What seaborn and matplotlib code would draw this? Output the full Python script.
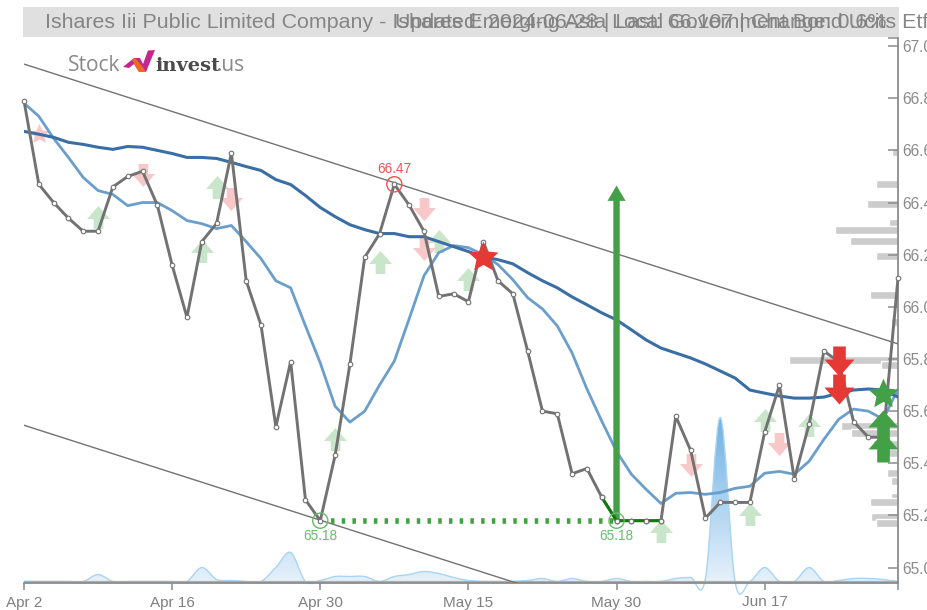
# Stock chart recreation: close, moving averages, signals, volume and profile
import numpy as np
import seaborn as sns
import matplotlib.pyplot as plt
from matplotlib.path import Path
from matplotlib.patches import PathPatch, Rectangle, Polygon
from matplotlib.lines import Line2D
from matplotlib.colors import LinearSegmentedColormap

title_main = "Ishares Iii Public Limited Company - Ishares Emerging Asia Local Government Bond Ucits Etf"
title_update = "Updated: 2024-06-28 | Last: 66.107 | Change: 0.6%"

days = list(range(60))
x_ticks = [0, 10, 20, 30, 40, 50]
x_labels = ["Apr 2", "Apr 16", "Apr 30", "May 15", "May 30", "Jun 17"]
y_ticks = [65.0, 65.2, 65.4, 65.6, 65.8, 66.0, 66.2, 66.4, 66.6, 66.8, 67.0]

close = [66.79, 66.47, 66.40, 66.34, 66.29, 66.29, 66.46, 66.50, 66.52, 66.39,
         66.16, 65.96, 66.25, 66.32, 66.59, 66.10, 65.93, 65.54, 65.79, 65.26,
         65.18, 65.43, 65.78, 66.19, 66.28, 66.47, 66.39, 66.29, 66.04, 66.05,
         66.02, 66.25, 66.10, 66.05, 65.83, 65.60, 65.59, 65.36, 65.38, 65.27,
         65.18, 65.18, 65.18, 65.18, 65.58, 65.45, 65.19, 65.25, 65.25, 65.25,
         65.52, 65.70, 65.34, 65.55, 65.83, 65.79, 65.56, 65.50, 65.50, 66.11]

sma_long = [66.673, 66.662, 66.650, 66.631, 66.623, 66.612, 66.604, 66.615, 66.612, 66.600,
            66.588, 66.573, 66.573, 66.569, 66.554, 66.538, 66.523, 66.488, 66.469, 66.427,
            66.381, 66.346, 66.315, 66.296, 66.281, 66.281, 66.269, 66.269, 66.250, 66.231,
            66.212, 66.192, 66.181, 66.165, 66.131, 66.100, 66.073, 66.038, 66.008, 65.977,
            65.950, 65.912, 65.873, 65.842, 65.823, 65.804, 65.781, 65.754, 65.727, 65.681,
            65.669, 65.658, 65.650, 65.650, 65.654, 65.669, 65.681, 65.685, 65.681, 65.654]

sma_short = [66.781, 66.731, 66.646, 66.573, 66.496, 66.446, 66.431, 66.388, 66.400, 66.400,
             66.369, 66.331, 66.319, 66.300, 66.312, 66.250, 66.185, 66.100, 66.073, 65.927,
             65.785, 65.619, 65.558, 65.600, 65.700, 65.792, 65.954, 66.119, 66.208, 66.235,
             66.227, 66.200, 66.162, 66.104, 66.035, 65.992, 65.927, 65.823, 65.685, 65.562,
             65.446, 65.358, 65.300, 65.246, 65.285, 65.288, 65.281, 65.288, 65.304, 65.312,
             65.362, 65.369, 65.358, 65.408, 65.492, 65.569, 65.608, 65.600, 65.569, 65.685]

volume = [0, 0, 0, 0, 0, 7, 0, 0, 0, 0,
          0, 0, 14, 2, 1, 0, 0, 14, 29, 0,
          1, 5, 5, 5, 0, 5, 7, 10, 8, 4,
          1, 0, 0, 0, 1, 3, 0, 3, 0, 0,
          3, 0, 0, 0, 3, 4, 3, 164, 0, 0,
          14, 0, 0, 14, 0, 1, 3, 3, 2, 0]

profile_price = [66.793, 66.594, 66.471, 66.394, 66.321, 66.294, 66.252, 66.195, 66.046, 65.942,
                 65.796, 65.778, 65.543, 65.516, 65.474, 65.440, 65.363, 65.332, 65.271, 65.252,
                 65.194, 65.171]
profile_volume = [2, 6, 22, 31, 9, 63, 48, 22, 28, 7,
                  109, 17, 57, 47, 25, 20, 11, 7, 7, 28,
                  27, 22]

# signals (day, price)
weak_buy_x = [5, 13, 12, 24, 28, 30, 21, 43, 49, 50, 53]
weak_buy_y = [66.346, 66.458, 66.215, 66.173, 66.254, 66.108, 65.492, 65.142, 65.204, 65.565, 65.546]
weak_sell_x = [8, 14, 27, 27, 45, 51]
weak_sell_y = [66.504, 66.415, 66.377, 66.223, 65.392, 65.473]
sell_x = [55, 55]
sell_y = [65.792, 65.685]
buy_x = [58, 58]
buy_y = [65.546, 65.462]

low_day_a, low_day_b, low_price = 20, 40, 65.18
high_day, high_price = 25, 66.47
target_price = 66.465

upper_trend = [66.931, 65.858]
lower_trend = [65.546, 64.472]

GREY = "#727272"
AXIS = "#8c8c8c"
GREEN = "#43a047"
RED = "#e53935"

sns.set_style("ticks")
plt.rcParams["font.family"] = ["Liberation Sans", "DejaVu Sans"]

W, H = 928, 610


def px(x, y):
    return x / W, 1 - y / H


fig = plt.figure(figsize=(W / 100, H / 100), dpi=100)
pos = [24 / W, 1 - 583 / H, 874 / W, 545 / H]

# title band
fig.patches.append(Rectangle(px(23, 37), 876 / W, 30 / H, transform=fig.transFigure,
                             facecolor="#e0e0e0", edgecolor="none", zorder=0))
fig.text(*px(45, 22), title_main, fontsize=15.4, color="#808080", va="center", ha="left", alpha=0.95)
fig.text(*px(395, 22), title_update, fontsize=15.4, color="#808080", va="center", ha="left", alpha=0.95)

# volume profile, anchored on the right
ax_prof = fig.add_axes(pos, zorder=1)
ax_prof.barh(profile_price, profile_volume, height=0.03, color="#cccccc")
ax_prof.set_xlim(874, 0)
ax_prof.set_ylim(64.941, 67.031)
ax_prof.axis("off")

# volume area, spline through the daily values
ax_vol = fig.add_axes(pos, zorder=2)
ax_vol.axis("off")
verts = [(days[0], volume[0])]
codes = [Path.MOVETO]
for i in range(len(days) - 1):
    prev_v = volume[max(i - 1, 0)]
    next_v = volume[min(i + 2, len(days) - 1)]
    verts += [(days[i] + 1 / 3, volume[i] + (volume[i + 1] - prev_v) / 6),
              (days[i + 1] - 1 / 3, volume[i + 1] - (next_v - volume[i]) / 6),
              (days[i + 1], volume[i + 1])]
    codes += [Path.CURVE4] * 3
verts.append((days[0], volume[0]))
codes.append(Path.LINETO)
area = PathPatch(Path(verts, codes), facecolor="none", edgecolor="#a9d4f2", lw=1.0, clip_on=False, zorder=3)
ax_vol.add_patch(area)
cmap = LinearSegmentedColormap.from_list("vol", ["#6fb1e4", "#f0f7fd"])
grad = ax_vol.imshow(np.linspace(0, 1, 128).reshape(-1, 1), extent=(0, 59, -15, max(volume)),
                     origin="upper", aspect="auto", cmap=cmap, zorder=2)
grad.set_clip_path(area)
grad.set_clip_on(True)
ax_vol.set_xlim(0, 59)
ax_vol.set_ylim(-1.5, 543.5)

# main price axes
ax = fig.add_axes(pos, zorder=3)
ax.patch.set_visible(False)

up = Path([(-.42, -1), (.42, -1), (.42, -.13), (1, -.13), (0, 1), (-1, -.13), (-.42, -.13), (-.42, -1)],
          closed=True)
down = Path([(x, -y) for x, y in up.vertices], closed=True)
# fat five point star, fatter than the stock '*' marker
star_ang = np.pi / 2 + np.arange(11) * np.pi / 5
star_rad = np.where(np.arange(11) % 2 == 0, 1.0, 0.47)
star = Path(np.column_stack([star_rad * np.cos(star_ang), star_rad * np.sin(star_ang)]), closed=True)

sns.scatterplot(x=weak_buy_x, y=weak_buy_y, marker=up, s=275, color="#c9e6ca", linewidth=0, ax=ax, zorder=2)
sns.scatterplot(x=weak_sell_x, y=weak_sell_y, marker=down, s=275, color="#f8c8c8", linewidth=0, ax=ax, zorder=2)
sns.scatterplot(x=[1], y=[66.662], marker=star, s=230, color="#f8c8c8", linewidth=0, ax=ax, zorder=2)

# trend channel
sns.lineplot(x=[days[0], days[-1]], y=upper_trend, color=GREY, lw=1.0, ax=ax, zorder=3)
sns.lineplot(x=[days[0], days[-1]], y=lower_trend, color=GREY, lw=1.0, ax=ax, zorder=3)

sns.lineplot(x=days, y=sma_short, color="#6b9fcb", lw=2.0, ax=ax, zorder=4)
sns.lineplot(x=days, y=sma_long, color="#3a6ea5", lw=2.2, ax=ax, zorder=4)

ax.annotate("", xy=(low_day_b, target_price), xytext=(low_day_b, low_price),
            arrowprops=dict(width=4.6, headwidth=13, headlength=11, shrink=0, color=GREEN, lw=0), zorder=5)
ax.add_line(Line2D([low_day_a + 0.7, low_day_b], [low_price, low_price], color="#3da33d", lw=4.0,
                   ls=(0, (0.63, 1.3)), zorder=5))

sns.lineplot(x=days, y=close, color=GREY, lw=2.1, marker="o", markersize=3.3, markerfacecolor="white",
             markeredgecolor=GREY, markeredgewidth=0.8, ax=ax, zorder=6, clip_on=False)
sns.lineplot(x=days[39:44], y=close[39:44], color="#0b7d0b", lw=2.1, ax=ax, zorder=6)
sns.scatterplot(x=days[39:44], y=close[39:44], color="white", edgecolor=GREY, s=11, linewidth=0.8, ax=ax, zorder=6)

# high / low markers
sns.scatterplot(x=[high_day], y=[high_price], s=120, facecolor="none", edgecolor="#ef5350", linewidth=1.0,
                ax=ax, zorder=7)
sns.scatterplot(x=[low_day_a, low_day_b], y=[low_price, low_price], s=120, facecolor="none", edgecolor="#66bb6a",
                linewidth=1.0, ax=ax, zorder=7)
ax.annotate(f"{high_price}", (high_day, high_price), xytext=(0, 6), textcoords="offset points", ha="center",
            va="bottom", fontsize=9.8, color="#ef5350", zorder=7)
for d in [low_day_a, low_day_b]:
    ax.annotate(f"{low_price}", (d, low_price), xytext=(0, -6), textcoords="offset points", ha="center",
                va="top", fontsize=9.8, color="#66bb6a", zorder=7)

# strong signals
sns.scatterplot(x=sell_x, y=sell_y, marker=down, s=467, color=RED, linewidth=0, ax=ax, zorder=8)
sns.scatterplot(x=buy_x, y=buy_y, marker=up, s=467, color=GREEN, linewidth=0, ax=ax, zorder=8)
sns.scatterplot(x=[31], y=[66.192], marker=star, s=516, color=RED, linewidth=0, ax=ax, zorder=8)
sns.scatterplot(x=[58], y=[65.665], marker=star, s=516, color=GREEN, linewidth=0, ax=ax, zorder=8)

ax.set_xlim(0, 59)
ax.set_ylim(64.941, 67.031)
ax.set_xlabel("")
ax.set_ylabel("")
ax.set_xticks(x_ticks, x_labels)
ax.set_xticks([59], minor=True)
ax.set_yticks(y_ticks, [f"{v:.1f}" for v in y_ticks])
ax.set_yticks([67.031], minor=True)
ax.yaxis.tick_right()
ax.tick_params(axis="y", which="both", direction="in", length=7, width=1.1, color=AXIS,
               labelcolor="#8a8a8a", labelsize=11.2, pad=3)
ax.tick_params(axis="x", which="both", direction="out", length=5, width=1.1, color=AXIS,
               labelcolor="#808080", labelsize=11, pad=4)
for side in ["top", "left"]:
    ax.spines[side].set_visible(False)
ax.spines["right"].set_visible(True)
ax.spines["right"].set_color(AXIS)
ax.spines["bottom"].set_color(AXIS)
ax.spines["right"].set_linewidth(1.3)
ax.spines["bottom"].set_linewidth(1.3)

# light blue volume baseline sits just on the axis
ax_vol.axhline(0, color="#79b4e0", lw=1.2, zorder=4)

# logo
fig.text(*px(68, 71), "Stock", fontsize=15, color="#8a8a8a", family="Open Sans", va="baseline")
fig.text(*px(155, 71), "invest", fontsize=14, color="#4a4a4a", family="DejaVu Serif", weight="bold", va="baseline")
fig.text(*px(217, 71), ".us", fontsize=15, color="#8a8a8a", family="Open Sans", va="baseline")
logo_a = [px(123, 67), px(134, 58), px(140, 58), px(143, 64), px(148, 50.5), px(155, 50), px(146, 72), px(139, 72),
          px(134, 64), px(129, 68)]
logo_b = [px(132, 60), px(135, 58), px(142, 66), px(146, 72), px(139, 72), px(135, 65)]
fig.patches.append(Polygon(logo_a, closed=True, transform=fig.transFigure, facecolor="#c4278f", edgecolor="none"))
fig.patches.append(Polygon(logo_b, closed=True, transform=fig.transFigure, facecolor="#f26a1b", edgecolor="none"))

fig.savefig("out.png", dpi=100)
